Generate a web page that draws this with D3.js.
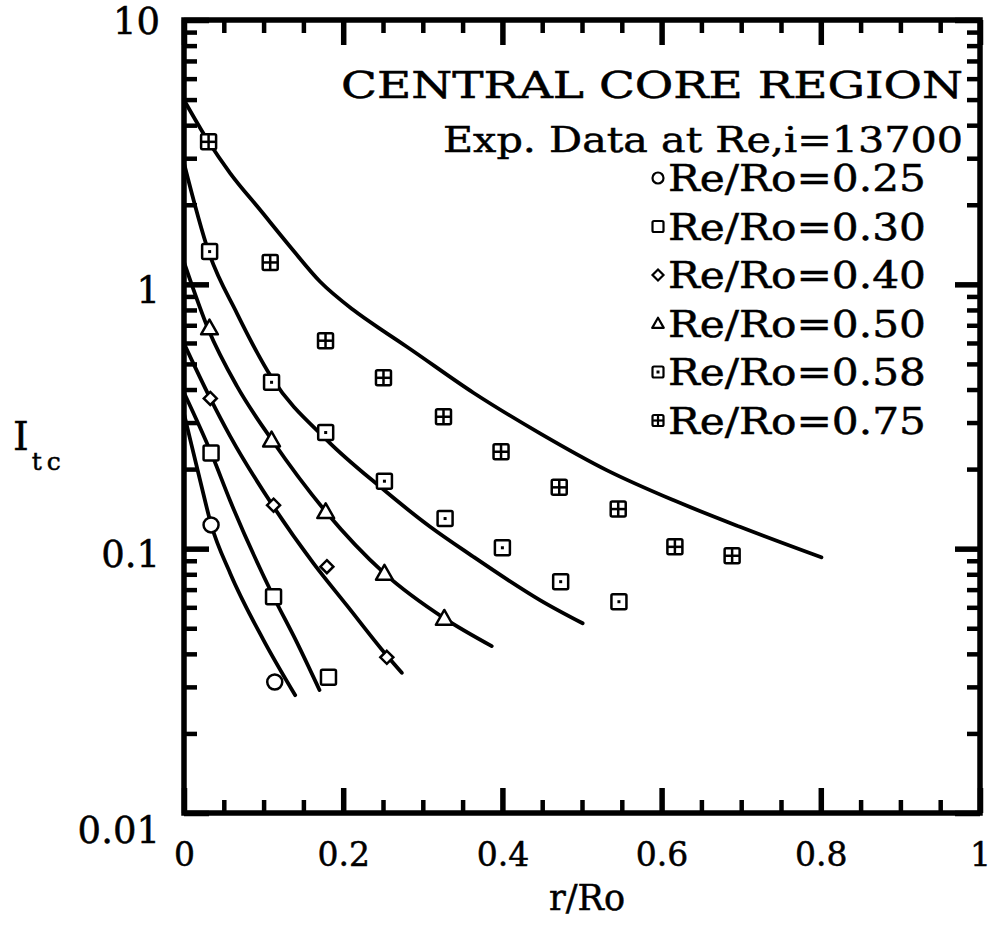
<!DOCTYPE html>
<html>
<head>
<meta charset="utf-8">
<script src="https://cdn.jsdelivr.net/npm/d3@7"></script>
<style>
  html, body { margin: 0; padding: 0; background: #fff; }
  svg { display: block; }
  text { font-family: "DejaVu Serif", "Liberation Serif", serif; fill: #000; stroke: #000; stroke-width: 0.5px; }
</style>
</head>
<body>
<svg id="chart" width="995" height="932"></svg>
<script>
// ---------------- DATA ----------------
const xMajorTicks = [0, 0.2, 0.4, 0.6, 0.8, 1];
const xMajorLabels = ["0", "0.2", "0.4", "0.6", "0.8", "1"];
const yMajorTicks = [0.01, 0.1, 1, 10];
const yMajorLabels = ["0.01", "0.1", "1", "10"];
const seriesNames = ["Re/Ro=0.25", "Re/Ro=0.30", "Re/Ro=0.40", "Re/Ro=0.50", "Re/Ro=0.58", "Re/Ro=0.75"];
const seriesSymbols = ["circle", "square", "diamond", "triangle", "dotsquare", "crosssquare"];
const titleLines = ["CENTRAL CORE REGION", "Exp. Data at Re,i=13700"];

// experimental points [r/Ro, Itc]
const exp25 = [[0.034, 0.123], [0.114, 0.0313]];
const exp30 = [[0.034, 0.230], [0.1125, 0.0658], [0.1815, 0.0326]];
const exp40 = [[0.033, 0.370], [0.1125, 0.146], [0.1795, 0.0855], [0.2548, 0.0388]];
const exp50 = [[0.032, 0.684], [0.110, 0.2576], [0.178, 0.138], [0.2518, 0.0807], [0.327, 0.0545]];
const exp58 = [[0.0322, 1.33], [0.110, 0.426], [0.178, 0.275], [0.2518, 0.180], [0.328, 0.130],
               [0.400, 0.1008], [0.4732, 0.075], [0.5464, 0.063]];
const exp75 = [[0.0309, 3.46], [0.1083, 1.21], [0.1778, 0.612], [0.2506, 0.443], [0.326, 0.3155],
               [0.3983, 0.2326], [0.4714, 0.1706], [0.5455, 0.1412], [0.6167, 0.1016], [0.6886, 0.094]];

// predicted curves [r/Ro, Itc]
const curve25 = [[0, 0.324], [0.0079, 0.258], [0.0205, 0.180], [0.0343, 0.1228], [0.0581, 0.0806],
                 [0.0999, 0.0451], [0.1397, 0.0279]];
const curve30 = [[0, 0.389], [0.0343, 0.2294], [0.0581, 0.1514], [0.1125, 0.0658],
                 [0.1418, 0.0442], [0.1702, 0.0292]];
const curve40 = [[0, 0.597], [0.033, 0.3704], [0.0581, 0.266], [0.1117, 0.1453], [0.1627, 0.088],
                 [0.2046, 0.061], [0.2548, 0.0394], [0.2736, 0.0339]];
const curve50 = [[0, 1.214], [0.0309, 0.672], [0.0665, 0.412], [0.1105, 0.2576], [0.1782, 0.1379],
                 [0.2518, 0.0806], [0.3271, 0.0545], [0.3866, 0.0428]];
const curve58 = [[0, 2.87], [0.0309, 1.328], [0.0665, 0.777], [0.1105, 0.4419], [0.1795, 0.2576],
                 [0.2464, 0.1714], [0.3092, 0.121], [0.3635, 0.0932], [0.4054, 0.0767], [0.4472, 0.0639],
                 [0.5008, 0.0522]];
const curve75 = [[0, 4.98], [0.0309, 3.46], [0.0581, 2.63], [0.0958, 1.91], [0.1334, 1.388],
                 [0.1711, 1.023], [0.2129, 0.7995], [0.2548, 0.6527], [0.2799, 0.5806], [0.3635, 0.389],
                 [0.4472, 0.2731], [0.5309, 0.1983], [0.6145, 0.1527], [0.6983, 0.121], [0.8008, 0.0927]];

const expSets = [exp25, exp30, exp40, exp50, exp58, exp75];
const curveSets = [curve25, curve30, curve40, curve50, curve58, curve75];

// ---------------- CHART ----------------
const svg = d3.select("#chart");
const x = d3.scaleLinear().domain([0, 1]).range([184, 980]);
const y = d3.scaleLog().domain([0.01, 10]).range([813, 20]);

const xMinor = d3.range(0, 1.0001, 0.05).filter(v => Math.abs(v * 5 - Math.round(v * 5)) > 1e-6);
const yMinor = [];
[0.01, 0.1, 1].forEach(b => { for (let k = 2; k <= 9; k++) yMinor.push(b * k); });

function styleAxis(g, w) {
  g.select(".domain").remove();
  g.selectAll(".tick line").attr("stroke", "#000").attr("stroke-width", w);
}

// minor ticks (inward)
svg.append("g").attr("transform", `translate(0,${y(0.01)})`)
  .call(d3.axisBottom(x).tickValues(xMinor).tickSize(-13).tickFormat(""))
  .call(g => styleAxis(g, 4.5));
svg.append("g").attr("transform", `translate(0,${y(10)})`)
  .call(d3.axisTop(x).tickValues(xMinor).tickSize(-13).tickFormat(""))
  .call(g => styleAxis(g, 4.5));
svg.append("g").attr("transform", `translate(${x(0)},0)`)
  .call(d3.axisLeft(y).tickValues(yMinor).tickSize(-13).tickFormat(""))
  .call(g => styleAxis(g, 4.5));
svg.append("g").attr("transform", `translate(${x(1)},0)`)
  .call(d3.axisRight(y).tickValues(yMinor).tickSize(-13).tickFormat(""))
  .call(g => styleAxis(g, 4.5));

// major ticks
const xAxisB = svg.append("g").attr("transform", `translate(0,${y(0.01)})`)
  .call(d3.axisBottom(x).tickValues(xMajorTicks).tickSize(-25).tickPadding(30)
    .tickFormat((d, i) => xMajorLabels[i]))
  .call(g => styleAxis(g, 5.5));
xAxisB.selectAll(".tick text").attr("font-size", 33).attr("font-family", "DejaVu Serif");
svg.append("g").attr("transform", `translate(0,${y(10)})`)
  .call(d3.axisTop(x).tickValues(xMajorTicks).tickSize(-25).tickFormat(""))
  .call(g => styleAxis(g, 5.5));
const yAxisL = svg.append("g").attr("transform", `translate(${x(0)},0)`)
  .call(d3.axisLeft(y).tickValues(yMajorTicks).tickSize(-25).tickPadding(24)
    .tickFormat((d, i) => yMajorLabels[i]))
  .call(g => styleAxis(g, 5.5));
yAxisL.selectAll(".tick text").attr("font-size", 37).attr("font-family", "DejaVu Serif")
  .attr("dy", (d) => d === 0.01 ? "0.8em" : (d === 10 ? "0.36em" : "0.48em"));
svg.append("g").attr("transform", `translate(${x(1)},0)`)
  .call(d3.axisRight(y).tickValues(yMajorTicks).tickSize(-25).tickFormat(""))
  .call(g => styleAxis(g, 5.5));

// frame
svg.append("rect")
  .attr("x", x(0)).attr("y", y(10))
  .attr("width", x(1) - x(0)).attr("height", y(0.01) - y(10))
  .attr("fill", "none").attr("stroke", "#000").attr("stroke-width", 5.5);

// axis titles
svg.append("text").attr("x", 587).attr("y", 910).attr("text-anchor", "middle")
  .attr("font-size", 35).text("r/Ro");
const yt = svg.append("text").attr("x", 13).attr("y", 450).attr("font-size", 40);
yt.append("tspan").text("I");
yt.append("tspan").attr("dy", 20).attr("dx", 3).attr("font-size", 25).attr("letter-spacing", 5).text("tc");

// curves
const line = d3.line().x(d => x(d[0])).y(d => y(d[1])).curve(d3.curveMonotoneX);
const plot = svg.append("g");
curveSets.forEach(c => {
  plot.append("path").attr("d", line(c)).attr("fill", "none")
    .attr("stroke", "#000").attr("stroke-width", 3.8).attr("stroke-linecap", "round");
});

// markers
function drawMarker(g, type, cx, cy, s, sw) {
  const h = s / 2;
  const common = sel => sel.attr("fill", "#fff").attr("stroke", "#000").attr("stroke-width", sw);
  if (type === "circle") {
    g.append("circle").attr("cx", cx).attr("cy", cy).attr("r", h).call(common);
  } else if (type === "square" || type === "dotsquare" || type === "crosssquare") {
    g.append("rect").attr("x", cx - h).attr("y", cy - h).attr("width", s).attr("height", s)
      .attr("rx", 1.5).call(common);
    if (type === "dotsquare") {
      g.append("rect").attr("x", cx - 1.5).attr("y", cy - 1.5).attr("width", 3).attr("height", 3).attr("fill", "#000");
    }
    if (type === "crosssquare") {
      g.append("line").attr("x1", cx - h).attr("x2", cx + h).attr("y1", cy).attr("y2", cy)
        .attr("stroke", "#000").attr("stroke-width", sw);
      g.append("line").attr("x1", cx).attr("x2", cx).attr("y1", cy - h).attr("y2", cy + h)
        .attr("stroke", "#000").attr("stroke-width", sw);
    }
  } else if (type === "diamond") {
    const d = s * 0.5;
    g.append("path").attr("d", `M${cx},${cy - d}L${cx + d},${cy}L${cx},${cy + d}L${cx - d},${cy}Z`).call(common);
  } else if (type === "triangle") {
    g.append("path").attr("d", `M${cx},${cy - h * 1.05}L${cx + h * 1.05},${cy + h * 0.8}L${cx - h * 1.05},${cy + h * 0.8}Z`)
      .attr("stroke-linejoin", "round").call(common);
  }
}
const sizes = [15, 15, 13, 16, 15, 15];
expSets.forEach((set, i) => {
  set.forEach(p => drawMarker(plot, seriesSymbols[i], x(p[0]), y(p[1]), sizes[i], 2.5));
});

// legend / annotation
const leg = svg.append("g");
leg.append("text").attr("x", 963).attr("y", 98).attr("text-anchor", "end")
  .attr("font-size", 38).attr("textLength", 622).attr("lengthAdjust", "spacingAndGlyphs").text(titleLines[0]);
leg.append("text").attr("x", 963).attr("y", 152).attr("text-anchor", "end")
  .attr("font-size", 36).attr("textLength", 520).attr("lengthAdjust", "spacingAndGlyphs").text(titleLines[1]);
const legY0 = 178, legDy = 48.5;
seriesNames.forEach((n, i) => {
  const cy = legY0 + i * legDy;
  drawMarker(leg, seriesSymbols[i], 658, cy, 11, 2.2);
  leg.append("text").attr("x", 668).attr("y", cy + 13).attr("font-size", 37)
    .attr("textLength", 258).attr("lengthAdjust", "spacingAndGlyphs").text(n);
});
</script>
</body>
</html>
